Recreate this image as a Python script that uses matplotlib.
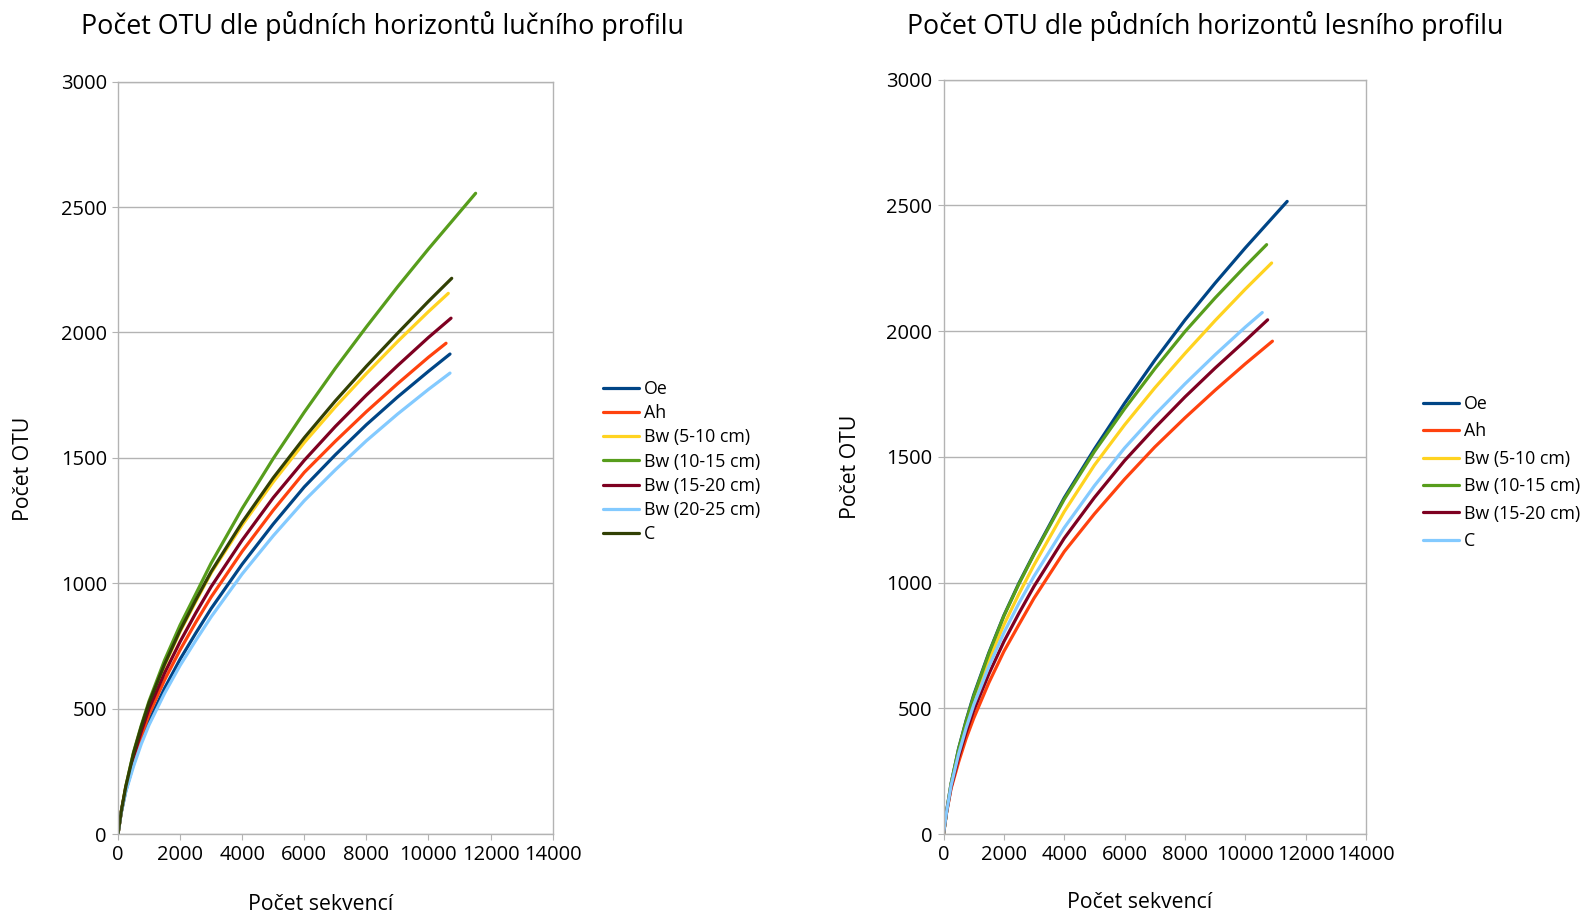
import matplotlib
matplotlib.use("Agg")
import matplotlib.pyplot as plt

plt.rcParams["font.family"] = ["Open Sans", "DejaVu Sans"]

# Data (sequences -> OTUs)
seq_grid = [0, 100, 250, 500, 750, 1000, 1500, 2000, 2500, 3000, 4000, 5000, 6000, 7000, 8000, 9000, 10000]

meadow_labels = ["Oe", "Ah", "Bw (5-10 cm)", "Bw (10-15 cm)", "Bw (15-20 cm)", "Bw (20-25 cm)", "C"]
meadow_colors = ["#004586", "#ff420e", "#ffd320", "#579d1c", "#7e0021", "#83caff", "#314004"]
meadow_end_x = [10695, 10567, 10640, 11520, 10728, 10695, 10750]
meadow_oe = [0, 83, 172, 280, 372, 451, 581, 697, 800, 899, 1076, 1236, 1384, 1512, 1632, 1742, 1845, 1914]
meadow_ah = [0, 84, 177, 294, 390, 477, 614, 734, 843, 945, 1127, 1291, 1442, 1566, 1684, 1795, 1901, 1957]
meadow_bw510 = [0, 86, 187, 320, 425, 520, 672, 807, 926, 1041, 1232, 1404, 1561, 1703, 1836, 1963, 2083, 2156]
meadow_bw1015 = [0, 86, 190, 326, 433, 530, 693, 833, 956, 1080, 1298, 1497, 1682, 1857, 2022, 2181, 2333, 2555]
meadow_bw1520 = [0, 85, 182, 308, 409, 500, 642, 767, 880, 986, 1172, 1341, 1490, 1625, 1750, 1867, 1980, 2057]
meadow_bw2025 = [0, 82, 168, 270, 359, 435, 561, 672, 771, 866, 1037, 1189, 1329, 1452, 1568, 1674, 1773, 1838]
meadow_c = [0, 86, 188, 322, 428, 523, 677, 812, 932, 1046, 1243, 1420, 1580, 1727, 1865, 1996, 2124, 2216]
meadow_values = [meadow_oe, meadow_ah, meadow_bw510, meadow_bw1015, meadow_bw1520, meadow_bw2025, meadow_c]

forest_labels = ["Oe", "Ah", "Bw (5-10 cm)", "Bw (10-15 cm)", "Bw (15-20 cm)", "C"]
forest_colors = ["#004586", "#ff420e", "#ffd320", "#579d1c", "#7e0021", "#83caff"]
forest_end_x = [11388, 10899, 10873, 10707, 10741, 10562]
forest_oe = [0, 88, 200, 340, 452, 553, 720, 869, 998, 1115, 1337, 1531, 1713, 1884, 2044, 2191, 2331, 2516]
forest_ah = [0, 84, 180, 286, 380, 460, 601, 726, 833, 938, 1123, 1273, 1411, 1539, 1655, 1765, 1870, 1960]
forest_bw510 = [0, 87, 195, 326, 433, 528, 689, 832, 955, 1070, 1282, 1467, 1627, 1774, 1911, 2042, 2167, 2271]
forest_bw1015 = [0, 88, 199, 338, 449, 548, 717, 867, 995, 1112, 1331, 1521, 1691, 1850, 1998, 2132, 2258, 2344]
forest_bw1520 = [0, 85, 186, 304, 404, 491, 636, 765, 878, 985, 1176, 1338, 1485, 1615, 1738, 1853, 1962, 2045]
forest_c = [0, 86, 192, 318, 422, 513, 665, 800, 918, 1025, 1218, 1385, 1535, 1667, 1790, 1906, 2016, 2074]
forest_values = [forest_oe, forest_ah, forest_bw510, forest_bw1015, forest_bw1520, forest_c]

W, H = 1581, 918
fig = plt.figure(figsize=(W / 100, H / 100), dpi=100)


def px_axes(x0, x1, y_top, y_bot):
    return fig.add_axes([x0 / W, 1 - y_bot / H, (x1 - x0) / W, (y_bot - y_top) / H])


def style(ax):
    ax.set_xlim(0, 14000)
    ax.set_ylim(0, 3000)
    ax.set_xticks(range(0, 14001, 2000))
    ax.set_yticks(range(0, 3001, 500))
    ax.grid(axis="y", color="#b3b3b3", lw=1)
    ax.set_axisbelow(True)
    for s in ax.spines.values():
        s.set_color("#b3b3b3")
        s.set_linewidth(1)
    ax.tick_params(length=4, color="#b3b3b3", labelsize=14.5, pad=4)


ax1 = px_axes(118, 552.6, 81.7, 834)
ax2 = px_axes(943.5, 1366, 79.7, 834)

for ax, labels, colors, ends, values in [
    (ax1, meadow_labels, meadow_colors, meadow_end_x, meadow_values),
    (ax2, forest_labels, forest_colors, forest_end_x, forest_values),
]:
    style(ax)
    for lab, col, xe, ys in zip(labels, colors, ends, values):
        ax.plot(seq_grid + [xe], ys, color=col, lw=2.3, label=lab, solid_capstyle="round")

ax1.legend(loc="upper left", bbox_to_anchor=(603 / W, 1 - 380 / H), bbox_transform=fig.transFigure,
           frameon=False, fontsize=12.8, handlelength=2.0, handletextpad=0.3,
           labelspacing=0.35, borderpad=0, borderaxespad=0)
ax2.legend(loc="upper left", bbox_to_anchor=(1423 / W, 1 - 395 / H), bbox_transform=fig.transFigure,
           frameon=False, fontsize=12.8, handlelength=2.0, handletextpad=0.3,
           labelspacing=0.53, borderpad=0, borderaxespad=0)

fig.text(382 / W, 1 - 26 / H, "Počet OTU dle půdních horizontů lučního profilu",
         ha="center", va="center", fontsize=19.4)
fig.text(1205 / W, 1 - 26 / H, "Počet OTU dle půdních horizontů lesního profilu",
         ha="center", va="center", fontsize=19.2)
fig.text(320.6 / W, 1 - 904 / H, "Počet sekvencí", ha="center", va="center", fontsize=15.3)
fig.text(1140 / W, 1 - 903 / H, "Počet sekvencí", ha="center", va="center", fontsize=15.3)
fig.text(24 / W, 1 - 469 / H, "Počet OTU", ha="center", va="center", rotation=90, fontsize=15.3)
fig.text(850 / W, 1 - 467 / H, "Počet OTU", ha="center", va="center", rotation=90, fontsize=15.3)

fig.savefig("out.png", dpi=100)
